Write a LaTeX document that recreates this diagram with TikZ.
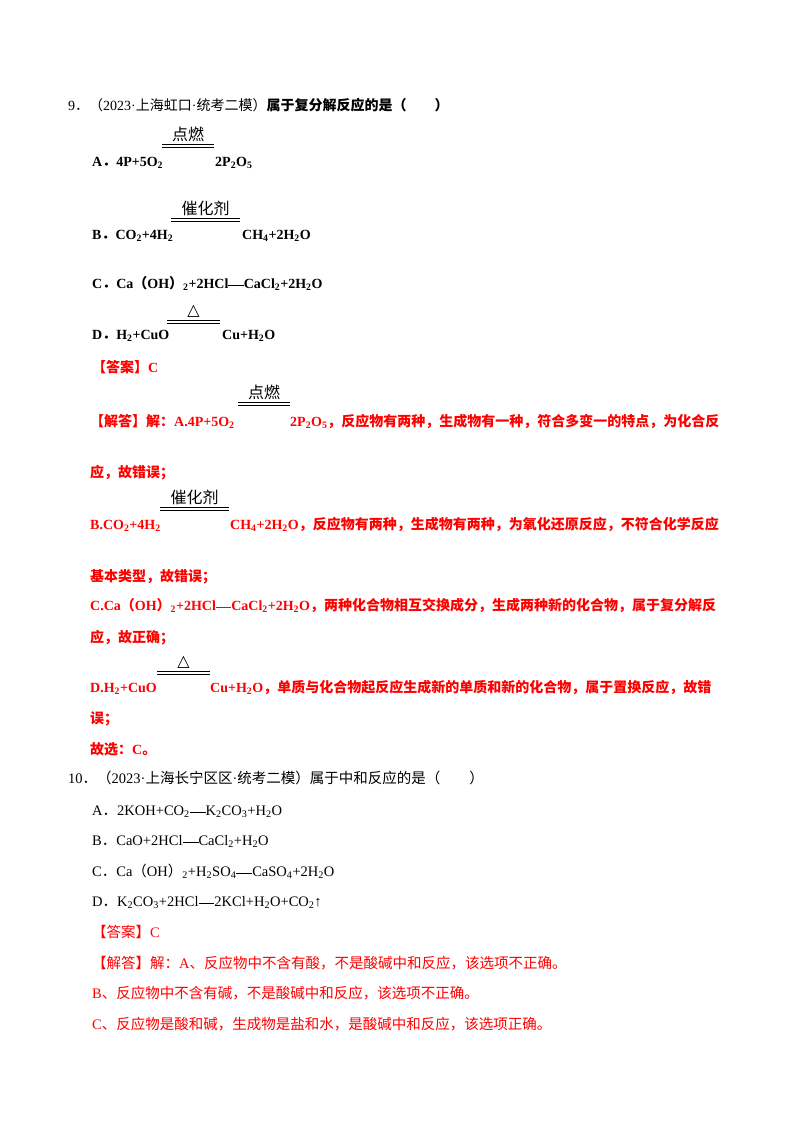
\documentclass[tikz,border=0pt]{standalone}
\usepackage{fontspec}
\usepackage{xcolor}
\setmainfont{Liberation Serif}
\newfontfamily\cjk{Noto Sans CJK SC}
\newfontfamily\symfont{DejaVu Sans}
% switch to the CJK font for every Chinese character
\XeTeXinterchartokenstate=1
\newXeTeXintercharclass\CJKcls
\count255="3000
\loop\XeTeXcharclass\count255=\CJKcls\ifnum\count255<"303F\advance\count255 by 1\repeat
\count255="4E00
\loop\XeTeXcharclass\count255=\CJKcls\ifnum\count255<"9FFF\advance\count255 by 1\repeat
\count255="FF00
\loop\XeTeXcharclass\count255=\CJKcls\ifnum\count255<"FF60\advance\count255 by 1\repeat
\XeTeXinterchartoks 0 \CJKcls={\begingroup\cjk}
\XeTeXinterchartoks 4095 \CJKcls={\begingroup\cjk}
\XeTeXinterchartoks \CJKcls 0={\endgroup}
\XeTeXinterchartoks \CJKcls 4095={\endgroup}
\definecolor{ANSRED}{RGB}{255, 0, 0}
\newcommand\dn[1]{\textsubscript{#1}}
\newcommand\eqbar{\rule[0.3ex]{1.1em}{1.5pt}}
\newcommand\heat{{\symfont △}}
\newcommand\condline[5]{%
  \draw[line width=0.9pt] (#2,#4-1.6) -- (#3,#4-1.6);
  \draw[line width=0.9pt] (#2,#4+1.2) -- (#3,#4+1.2);
  \node[cond] (#1) at ({(#2+#3)/2},#4-4) {#5};}
\begin{document}
\begin{tikzpicture}[x=1pt,y=-1pt,
  txt/.style={anchor=base west, inner sep=0pt, font=\fontsize{14}{16}\selectfont},
  btxt/.style={txt, font=\fontsize{14}{16}\selectfont\bfseries},
  rtxt/.style={btxt, text=ANSRED},
  ntxt/.style={txt, font=\fontsize{14.5}{16}\selectfont},
  rntxt/.style={ntxt, text=ANSRED},
  cond/.style={anchor=south, inner sep=0pt, font=\fontsize{16}{17}\selectfont}]
\useasboundingbox[fill=white] (0,0) rectangle (800,1132);
% question 9
\node[txt] (q9) at (68,110) {9．（2023·上海虹口·统考二模）\textbf{属于复分解反应的是（　　）}};
\node[btxt] (q9a) at (92,166) {A．4P+5O\dn2};
\node[btxt] (q9ap) at (215,166) {2P\dn2O\dn5};
\condline{q9ac}{162}{214}{146}{点燃}
\node[btxt] (q9b) at (92,239) {B．CO\dn2+4H\dn2};
\node[btxt] (q9bp) at (242,239) {CH\dn4+2H\dn2O};
\condline{q9bc}{171}{240}{220}{催化剂}
\node[btxt] (q9c) at (92,288) {C．Ca（OH）\dn2+2HCl\eqbar CaCl\dn2+2H\dn2O};
\node[btxt] (q9d) at (92,339) {D．H\dn2+CuO};
\node[btxt] (q9dp) at (222,339) {Cu+H\dn2O};
\condline{q9dc}{167}{220}{322}{\heat}
% answer 9
\node[rtxt] (a9) at (92,372) {【答案】C};
\node[rtxt] (e9a) at (90,426) {【解答】解：A.4P+5O\dn2};
\node[rtxt] (e9ap) at (290,426) {2P\dn2O\dn5，反应物有两种，生成物有一种，符合多变一的特点，为化合反};
\condline{e9ac}{238}{290}{404}{点燃}
\node[rtxt] (e9a2) at (90,477) {应，故错误；};
\node[rtxt] (e9b) at (90,529) {B.CO\dn2+4H\dn2};
\node[rtxt] (e9bp) at (230,529) {CH\dn4+2H\dn2O，反应物有两种，生成物有两种，为氧化还原反应，不符合化学反应};
\condline{e9bc}{160}{229}{509}{催化剂}
\node[rtxt] (e9b2) at (90,581) {基本类型，故错误；};
\node[rtxt] (e9c) at (90,610) {C.Ca（OH）\dn2+2HCl\eqbar CaCl\dn2+2H\dn2O，两种化合物相互交换成分，生成两种新的化合物，属于复分解反};
\node[rtxt] (e9c2) at (90,642) {应，故正确；};
\node[rtxt] (e9d) at (90,692) {D.H\dn2+CuO};
\node[rtxt] (e9dp) at (210,692) {Cu+H\dn2O，单质与化合物起反应生成新的单质和新的化合物，属于置换反应，故错};
\condline{e9dc}{157}{210}{673}{\heat}
\node[rtxt] (e9d2) at (90,723) {误；};
\node[rtxt] (e9e) at (90,754) {故选：C。};
% question 10
\node[ntxt] (q10) at (68,783) {10．（2023·上海长宁区区·统考二模）属于中和反应的是（　　）};
\node[ntxt] (q10a) at (92,815) {A．2KOH+CO\dn2\eqbar K\dn2CO\dn3+H\dn2O};
\node[ntxt] (q10b) at (92,845) {B．CaO+2HCl\eqbar CaCl\dn2+H\dn2O};
\node[ntxt] (q10c) at (92,876) {C．Ca（OH）\dn2+H\dn2SO\dn4\eqbar CaSO\dn4+2H\dn2O};
\node[ntxt] (q10d) at (92,906) {D．K\dn2CO\dn3+2HCl\eqbar 2KCl+H\dn2O+CO\dn2↑};
% answer 10
\node[rntxt] (a10) at (92,937) {【答案】C};
\node[rntxt] (e10a) at (92,968) {【解答】解：A、反应物中不含有酸，不是酸碱中和反应，该选项不正确。};
\node[rntxt] (e10b) at (92,998) {B、反应物中不含有碱，不是酸碱中和反应，该选项不正确。};
\node[rntxt] (e10c) at (92,1029) {C、反应物是酸和碱，生成物是盐和水，是酸碱中和反应，该选项正确。};
\end{tikzpicture}
\end{document}
